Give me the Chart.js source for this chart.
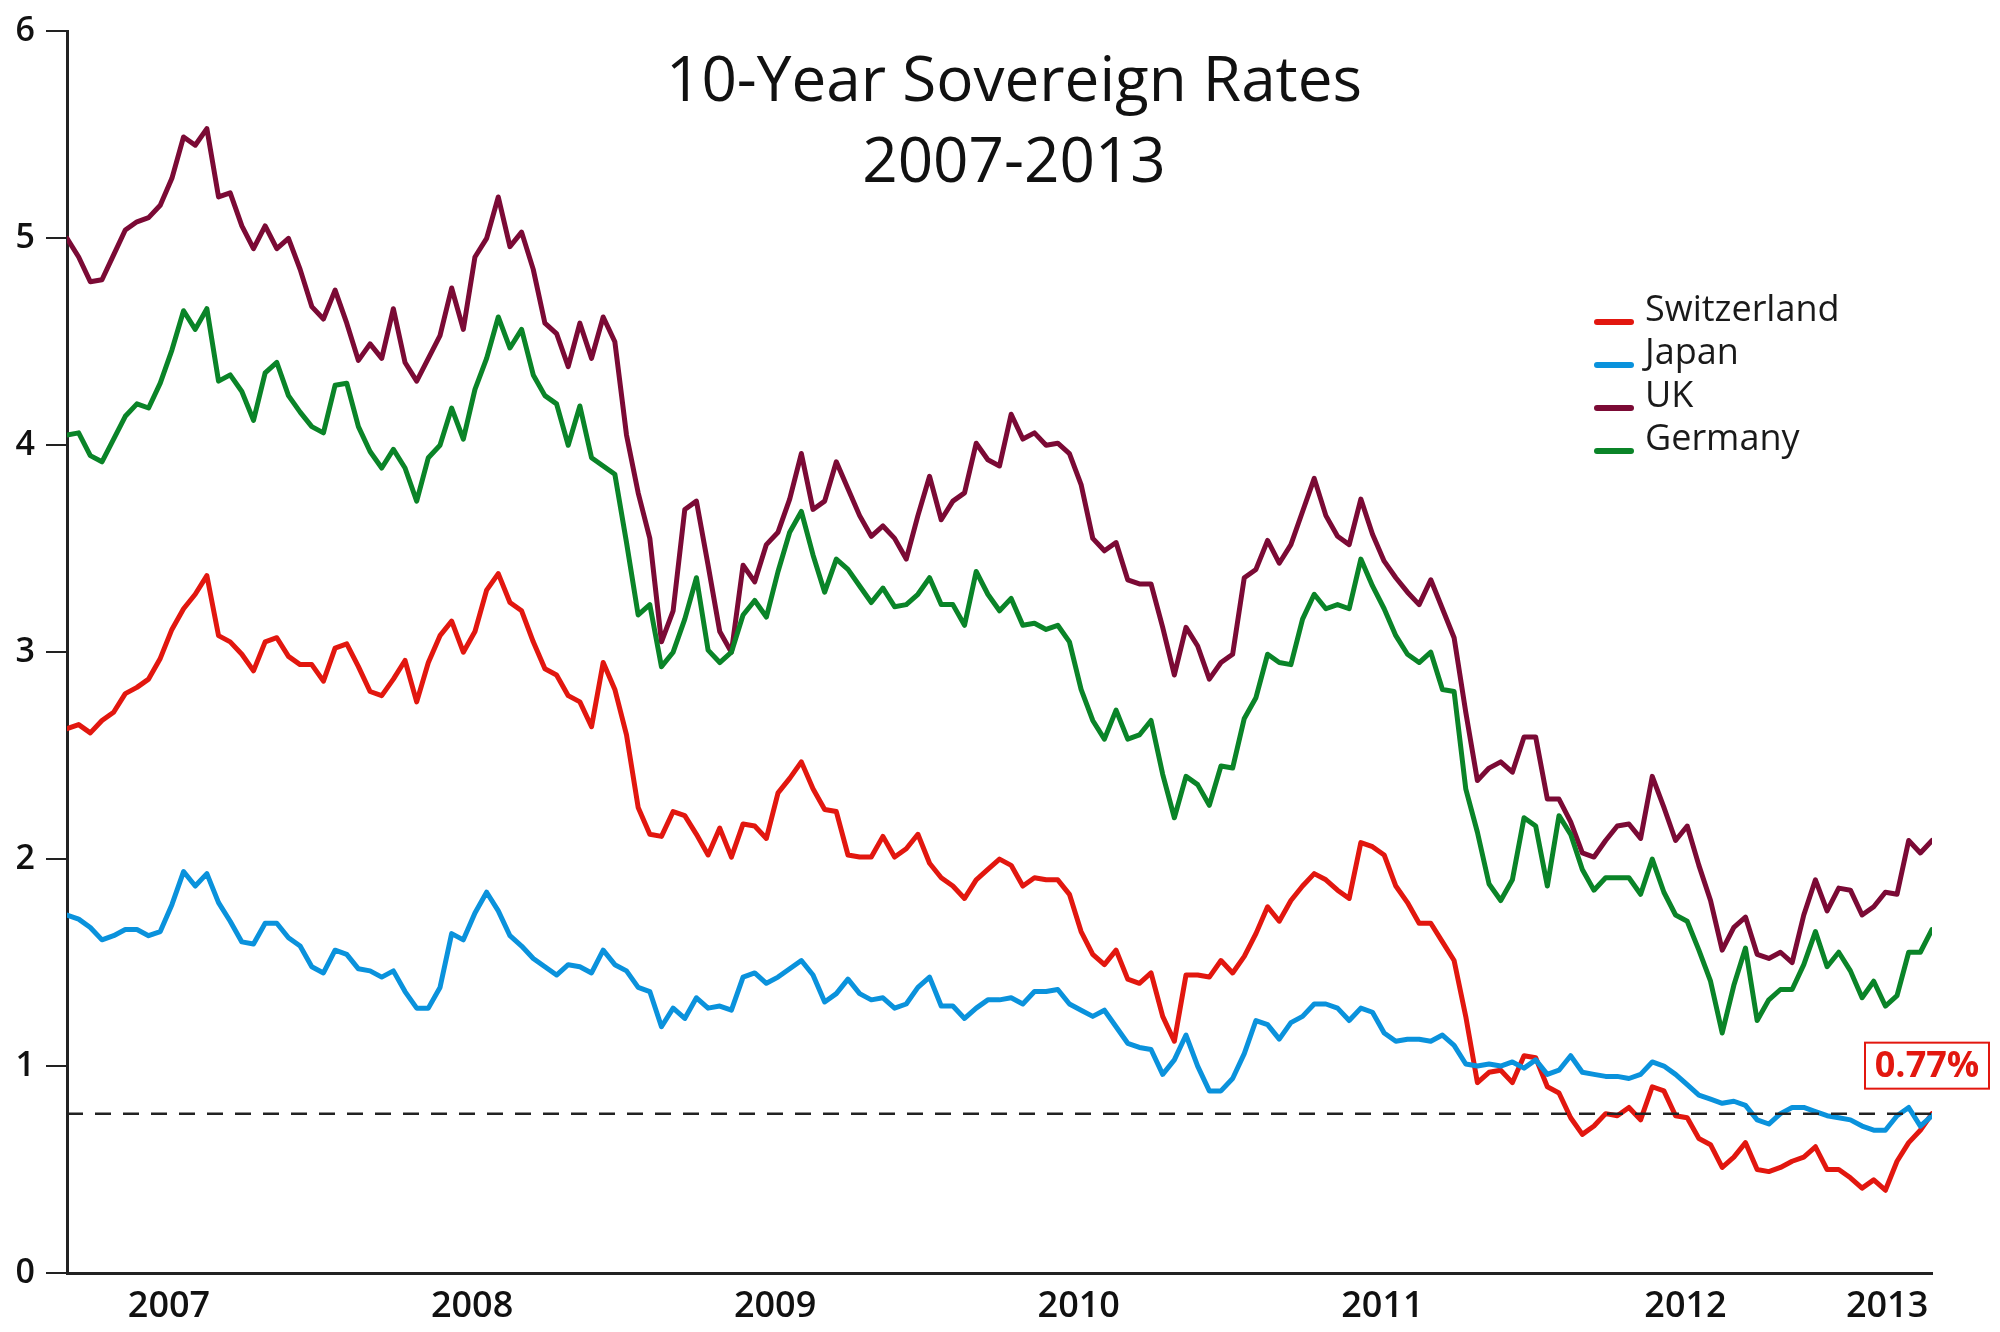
<!DOCTYPE html>
<html>
<head>
<meta charset="utf-8">
<script src="https://cdn.jsdelivr.net/npm/chart.js@4.4.0/dist/chart.umd.min.js"></script>
<style>
html,body{margin:0;padding:0;background:#fff;}
#wrap{width:2000px;height:1332px;position:relative;}
</style>
</head>
<body>
<div id="wrap"><canvas id="c" width="2000" height="1332"></canvas></div>
<script>
// ---------- data (weekly index, sampled every 2 weeks, Jan 2007 .. Feb 2013) ----------
const titleLines = ["10-Year Sovereign Rates", "2007-2013"];
const seriesNames = ["Switzerland", "Japan", "UK", "Germany"];
const weekStep = 2;

const switzerland = [2.63,2.65,2.61,2.67,2.71,2.80,2.83,2.87,2.97,3.11,3.21,
 3.28,3.37,3.08,3.05,2.99,2.91,3.05,3.07,2.98,2.94,
 2.94,2.86,3.02,3.04,2.93,2.81,2.79,2.87,2.96,2.76,
 2.95,3.08,3.15,3.00,3.10,3.30,3.38,3.24,3.20,3.05,
 2.92,2.89,2.79,2.76,2.64,2.95,2.82,2.60,2.25,2.12,
 2.11,2.23,2.21,2.12,2.02,2.15,2.01,2.17,2.16,2.10,
 2.32,2.39,2.47,2.34,2.24,2.23,2.02,2.01,2.01,2.11,
 2.01,2.05,2.12,1.98,1.91,1.87,1.81,1.90,1.95,2.00,
 1.97,1.87,1.91,1.90,1.90,1.83,1.65,1.54,1.49,1.56,
 1.42,1.40,1.45,1.24,1.12,1.44,1.44,1.43,1.51,1.45,
 1.53,1.64,1.77,1.70,1.80,1.87,1.93,1.90,1.85,1.81,
 2.08,2.06,2.02,1.87,1.79,1.69,1.69,1.60,1.51,1.24,
 0.92,0.97,0.98,0.92,1.05,1.04,0.90,0.87,0.75,0.67,
 0.71,0.77,0.76,0.80,0.74,0.90,0.88,0.76,0.75,0.65,
 0.62,0.51,0.56,0.63,0.50,0.49,0.51,0.54,0.56,0.61,
 0.50,0.50,0.46,0.41,0.45,0.40,0.54,0.63,0.69,0.77];

const japan = [1.73,1.71,1.67,1.61,1.63,1.66,1.66,1.63,1.65,1.78,1.94,
 1.87,1.93,1.79,1.70,1.60,1.59,1.69,1.69,1.62,1.58,
 1.48,1.45,1.56,1.54,1.47,1.46,1.43,1.46,1.36,1.28,
 1.28,1.38,1.64,1.61,1.74,1.84,1.75,1.63,1.58,1.52,
 1.48,1.44,1.49,1.48,1.45,1.56,1.49,1.46,1.38,1.36,
 1.19,1.28,1.23,1.33,1.28,1.29,1.27,1.43,1.45,1.40,
 1.43,1.47,1.51,1.44,1.31,1.35,1.42,1.35,1.32,1.33,
 1.28,1.30,1.38,1.43,1.29,1.29,1.23,1.28,1.32,1.32,
 1.33,1.30,1.36,1.36,1.37,1.30,1.27,1.24,1.27,1.19,
 1.11,1.09,1.08,0.96,1.03,1.15,1.00,0.88,0.88,0.94,
 1.06,1.22,1.20,1.13,1.21,1.24,1.30,1.30,1.28,1.22,
 1.28,1.26,1.16,1.12,1.13,1.13,1.12,1.15,1.10,1.01,
 1.00,1.01,1.00,1.02,0.99,1.03,0.96,0.98,1.05,0.97,
 0.96,0.95,0.95,0.94,0.96,1.02,1.00,0.96,0.91,0.86,
 0.84,0.82,0.83,0.81,0.74,0.72,0.77,0.80,0.80,0.78,
 0.76,0.75,0.74,0.71,0.69,0.69,0.76,0.80,0.71,0.76];

const uk = [5.00,4.91,4.79,4.80,4.92,5.04,5.08,5.10,5.16,5.29,5.49,
 5.45,5.53,5.20,5.22,5.06,4.95,5.06,4.95,5.00,4.85,
 4.67,4.61,4.75,4.59,4.41,4.49,4.42,4.66,4.40,4.31,
 4.42,4.53,4.76,4.56,4.91,5.00,5.20,4.96,5.03,4.85,
 4.59,4.54,4.38,4.59,4.42,4.62,4.50,4.05,3.77,3.55,
 3.05,3.20,3.69,3.73,3.42,3.10,3.00,3.42,3.34,3.52,
 3.58,3.74,3.96,3.69,3.73,3.92,3.79,3.66,3.56,3.61,
 3.55,3.45,3.66,3.85,3.64,3.73,3.77,4.01,3.93,3.90,
 4.15,4.03,4.06,4.00,4.01,3.96,3.81,3.55,3.49,3.53,
 3.35,3.33,3.33,3.12,2.89,3.12,3.03,2.87,2.95,2.99,
 3.36,3.40,3.54,3.43,3.52,3.68,3.84,3.66,3.56,3.52,
 3.74,3.57,3.44,3.36,3.29,3.23,3.35,3.21,3.07,2.71,
 2.38,2.44,2.47,2.42,2.59,2.59,2.29,2.29,2.18,2.03,
 2.01,2.09,2.16,2.17,2.10,2.40,2.25,2.09,2.16,1.97,
 1.80,1.56,1.67,1.72,1.54,1.52,1.55,1.50,1.73,1.90,
 1.75,1.86,1.85,1.73,1.77,1.84,1.83,2.09,2.03,2.09];

const germany = [4.05,4.06,3.95,3.92,4.03,4.14,4.20,4.18,4.30,4.46,4.65,
 4.56,4.66,4.31,4.34,4.26,4.12,4.35,4.40,4.24,4.16,
 4.09,4.06,4.29,4.30,4.09,3.97,3.89,3.98,3.89,3.73,
 3.94,4.00,4.18,4.03,4.27,4.42,4.62,4.47,4.56,4.34,
 4.24,4.20,4.00,4.19,3.94,3.90,3.86,3.53,3.18,3.23,
 2.93,3.00,3.16,3.36,3.01,2.95,3.00,3.18,3.25,3.17,
 3.39,3.58,3.68,3.47,3.29,3.45,3.40,3.32,3.24,3.31,
 3.22,3.23,3.28,3.36,3.23,3.23,3.13,3.39,3.28,3.20,
 3.26,3.13,3.14,3.11,3.13,3.05,2.82,2.67,2.58,2.72,
 2.58,2.60,2.67,2.41,2.20,2.40,2.36,2.26,2.45,2.44,
 2.68,2.78,2.99,2.95,2.94,3.16,3.28,3.21,3.23,3.21,
 3.45,3.32,3.21,3.08,2.99,2.95,3.00,2.82,2.81,2.34,
 2.13,1.88,1.80,1.90,2.20,2.16,1.87,2.21,2.12,1.95,
 1.85,1.91,1.91,1.91,1.83,2.00,1.84,1.73,1.70,1.56,
 1.41,1.16,1.39,1.57,1.22,1.32,1.37,1.37,1.49,1.65,
 1.48,1.55,1.46,1.33,1.41,1.29,1.34,1.55,1.55,1.66];

const yearLabels = ["2007", "2008", "2009", "2010", "2011", "2012", "2013"];
const yearTickWeeks = [17.5, 69.5, 121.5, 173.6, 225.7, 277.7, 312.3];
const markerValue = 0.77;
const markerText = "0.77%";

// ---------- styles ----------
const colors = {
  Switzerland: "#e2170f",
  Japan: "#0a92dc",
  UK: "#7b0a35",
  Germany: "#0a8428"
};
const seriesValues = { Switzerland: switzerland, Japan: japan, UK: uk, Germany: germany };
const drawOrder = { Japan: 1, Switzerland: 2, Germany: 3, UK: 4 };
const lastWeek = (uk.length - 1) * weekStep;

const toPoints = arr => arr.map((v, i) => ({ x: i * weekStep, y: v }));

const datasets = seriesNames.map(name => ({
  label: name,
  data: toPoints(seriesValues[name]),
  borderColor: colors[name],
  backgroundColor: colors[name],
  borderWidth: 5,
  pointRadius: 0,
  tension: 0,
  fill: false,
  borderJoinStyle: "round",
  borderCapStyle: "round",
  order: drawOrder[name]
}));
datasets.push({
  label: "__marker",
  data: [{ x: 0, y: markerValue }, { x: lastWeek, y: markerValue }],
  borderColor: "#222",
  borderWidth: 2.5,
  borderDash: [16, 12],
  pointRadius: 0,
  fill: false,
  order: 0
});

const overlayPlugin = {
  id: "overlay",
  afterDatasetsDraw(chart) {
    const { ctx, chartArea, scales } = chart;
    ctx.save();
    // title
    ctx.fillStyle = "#111";
    ctx.font = '400 62px "Open Sans"';
    ctx.textAlign = "center";
    ctx.textBaseline = "alphabetic";
    const cx = chartArea.left + 947;
    ctx.fillText(titleLines[0], cx, 101);
    ctx.fillText(titleLines[1], cx, 182);

    // legend
    ctx.textAlign = "left";
    ctx.textBaseline = "middle";
    ctx.font = '400 36px "Open Sans"';
    const lx = 1597, tx = 1645, ly0 = 311, lstep = 43;
    seriesNames.forEach((name, i) => {
      const y = ly0 + i * lstep;
      ctx.strokeStyle = colors[name];
      ctx.lineWidth = 6;
      ctx.lineCap = "round";
      ctx.beginPath();
      ctx.moveTo(lx, y + 11);
      ctx.lineTo(lx + 34, y + 11);
      ctx.stroke();
      ctx.fillStyle = "#1a1a1a";
      ctx.fillText(name, tx, y);
    });

    // marker label box
    const yPix = scales.y.getPixelForValue(markerValue);
    const bx = chartArea.right - 67, bw = 124, bh = 46, by = yPix - 71;
    ctx.fillStyle = "#fff";
    ctx.fillRect(bx, by, bw, bh);
    ctx.strokeStyle = "#e2170f";
    ctx.lineWidth = 2;
    ctx.strokeRect(bx, by, bw, bh);
    ctx.fillStyle = "#e2170f";
    ctx.font = '700 36px "Open Sans"';
    ctx.textAlign = "center";
    ctx.textBaseline = "middle";
    ctx.fillText(markerText, bx + bw / 2, by + bh / 2 + 1);
    ctx.restore();
  }
};

new Chart(document.getElementById("c"), {
  type: "line",
  data: { datasets },
  plugins: [overlayPlugin],
  options: {
    responsive: false,
    animation: false,
    devicePixelRatio: 1,
    layout: { padding: { top: 28, right: 68, left: 0, bottom: 0 } },
    plugins: {
      legend: { display: false },
      tooltip: { enabled: false },
      title: { display: false }
    },
    scales: {
      x: {
        type: "linear",
        min: 0,
        max: lastWeek,
        afterBuildTicks: s => { s.ticks = yearTickWeeks.map(v => ({ value: v })); },
        afterFit: s => { s.height = 59; },
        ticks: {
          callback: (v, i) => yearLabels[i],
          autoSkip: false,
          maxRotation: 0,
          padding: 12,
          color: "#111",
          font: { family: "Open Sans", size: 36, weight: "600" }
        },
        grid: { display: false, drawTicks: false, drawOnChartArea: false },
        border: { display: true, color: "#222", width: 3 }
      },
      y: {
        min: 0,
        max: 6,
        afterFit: s => { s.width = 67; },
        ticks: {
          stepSize: 1,
          padding: 11,
          color: "#111",
          font: { family: "Open Sans", size: 34, weight: "600" }
        },
        grid: { display: true, drawOnChartArea: false, drawTicks: true, tickLength: 21, color: "#222", lineWidth: 2 },
        border: { display: true, color: "#222", width: 3 }
      }
    }
  }
});
</script>
</body>
</html>
